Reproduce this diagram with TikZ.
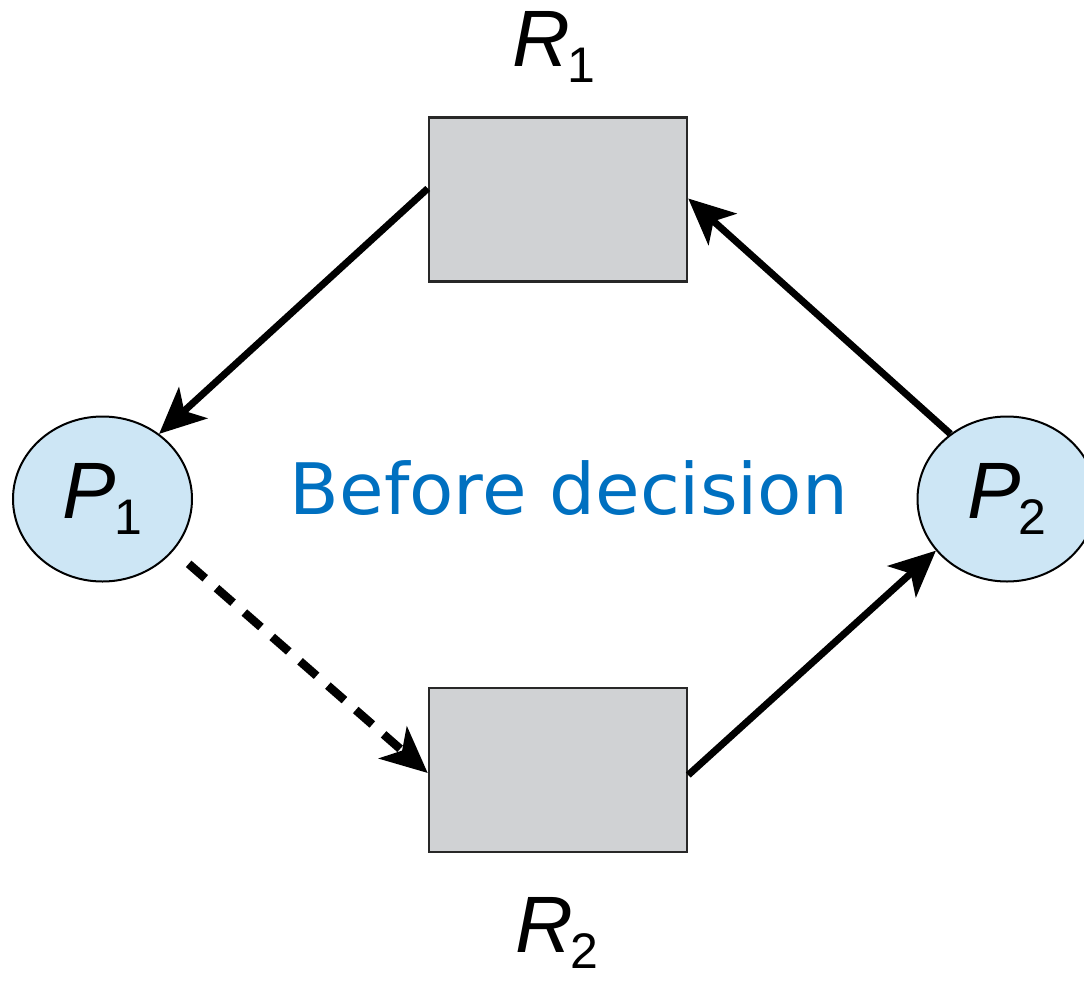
\documentclass[tikz,border=0pt]{standalone}
\usepackage{fontspec}
\setmainfont{Liberation Sans}
\newfontfamily\capfont{DejaVu Sans}
\usetikzlibrary{arrows.meta,shapes.geometric}

\definecolor{resfill}{RGB}{208,210,212}
\definecolor{resdraw}{RGB}{40,40,40}
\definecolor{procfill}{RGB}{205,230,245}
\definecolor{capblue}{RGB}{0,112,192}

% letter with an upright subscript
\newcommand{\symlbl}[2]{\fontsize{80}{80}\selectfont\textit{#1}\kern-2pt\raisebox{-16pt}{\fontsize{50}{50}\selectfont #2}}

\begin{document}
\begin{tikzpicture}[x=1pt,y=-1pt,
  resource/.style={draw=resdraw,line width=2.5pt,fill=resfill,
    minimum width=258pt,minimum height=164pt,inner sep=0pt},
  process/.style={ellipse,draw=black,line width=2pt,fill=procfill,
    minimum width=179pt,minimum height=165pt,inner sep=0pt},
  symtext/.style={inner sep=0pt,text=black},
  edgeline/.style={line width=7pt,black,
    -{Stealth[length=46pt,width=42pt,inset=12pt]}},
  claimline/.style={edgeline,line width=8.5pt,dash pattern=on 22pt off 15pt}
]
\useasboundingbox (0,0) rectangle (1084,980);

% resources
\node[resource] (R1) at (558,199.5) {};
\node[resource] (R2) at (558,770) {};
\node[symtext,anchor=base] (R1l) at (554,66) {\symlbl{R}{1}};
\node[symtext,anchor=base] (R2l) at (557,952) {\symlbl{R}{2}};

% processes
\node[process] (P1) at (102.5,499) {\symlbl{P}{1}};
\node[process] (P2) at (1007,499) {\symlbl{P}{2}};

% caption
\node[inner sep=0pt,anchor=base,text=capblue,xscale=1.02] (cap) at (569,514)
  {\capfont\fontsize{71}{71}\selectfont Before decision};

% assignment and request edges
\draw[edgeline] ([yshift=11pt]R1.west) -- (P1.49);
\draw[claimline,shorten <=20pt] (P1.-36) -- ([yshift=-3pt]R2.west);
\draw[edgeline] ([yshift=-5pt]R2.east) -- (P2.216);
\draw[edgeline] (P2.131) -- ([yshift=1pt]R1.east);
\end{tikzpicture}
\end{document}
